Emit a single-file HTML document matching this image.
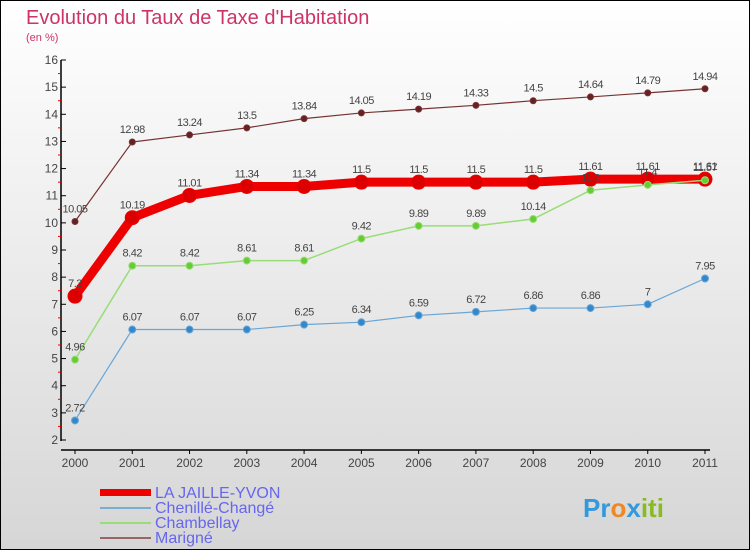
<!DOCTYPE html>
<html><head><meta charset="utf-8"><style>
body{margin:0}
#c{width:750px;height:550px;position:relative;box-sizing:border-box;border:1px solid #000;background:linear-gradient(#ffffff,#d6d6d6);font-family:"Liberation Sans","DejaVu Sans",sans-serif;overflow:hidden}
</style></head><body>
<div id="c">
<svg id="s" width="750" height="550" style="position:absolute;left:-1px;top:-1px;font-family:'Liberation Sans',sans-serif">
<text x="26" y="24" font-size="20" fill="#cc3366">Evolution du Taux de Taxe d'Habitation</text>
<text x="26" y="41" font-size="11" fill="#cc3366">(en %)</text>
<g id="plot"></g>
<g>
<rect x="100" y="489" width="51" height="7" fill="#ee0000"/>
<text x="155" y="498" font-size="16" fill="#6666ee">LA JAILLE-YVON</text>
<rect x="100" y="507" width="51" height="2" fill="#7aaed0"/>
<text x="155" y="513" font-size="16" fill="#6666ee">Chenillé-Changé</text>
<rect x="100" y="522" width="51" height="2" fill="#99dd77"/>
<text x="155" y="528" font-size="16" fill="#6666ee">Chambellay</text>
<rect x="100" y="537" width="51" height="2" fill="#996666"/>
<text x="155" y="543" font-size="16" fill="#6666ee">Marigné</text>
</g>
<text x="583" y="517" font-size="26" font-weight="bold" fill="#3399dd">Pr<tspan fill="#ee8822">o</tspan><tspan fill="#3399dd">x</tspan><tspan fill="#88bb22">iti</tspan></text>
</svg>
</div>
<script>
const years=[2000,2001,2002,2003,2004,2005,2006,2007,2008,2009,2010,2011];
const laJaille=[7.3,10.19,11.01,11.34,11.34,11.5,11.5,11.5,11.5,11.61,11.61,11.61];
const chenille=[2.72,6.07,6.07,6.07,6.25,6.34,6.59,6.72,6.86,6.86,7,7.95];
const chambellay=[4.96,8.42,8.42,8.61,8.61,9.42,9.89,9.89,10.14,11.2,11.4,11.57];
const marigne=[10.05,12.98,13.24,13.5,13.84,14.05,14.19,14.33,14.5,14.64,14.79,14.94];
const yTicks=[2,3,4,5,6,7,8,9,10,11,12,13,14,15,16];
const NS="http://www.w3.org/2000/svg";
const g=document.getElementById('plot');
const X=i=>75+i*(630/11);
const Y=v=>440-(v-2)*(380/14);
function mk(t,a,p){const e=document.createElementNS(NS,t);for(const k in a)e.setAttribute(k,a[k]);(p||g).appendChild(e);return e;}
let ax=mk('line',{x1:61,y1:60,x2:61,y2:441,stroke:'#000','stroke-width':1.5});


let xa=mk('line',{x1:61,y1:450,x2:710,y2:450,stroke:'#000','stroke-width':1.5});


yTicks.forEach(v=>{
 mk('line',{x1:61,y1:Y(v),x2:66,y2:Y(v),stroke:'#000'});
 if(v<16)mk('line',{x1:58,y1:Y(v+0.5),x2:61,y2:Y(v+0.5),stroke:'#e00'});
 const t=mk('text',{x:58,y:Y(v)+4,'font-size':12,fill:'#444','text-anchor':'end'});t.textContent=v;
 
 
});
years.forEach((yr,i)=>{
 mk('line',{x1:X(i),y1:450,x2:X(i),y2:454,stroke:'#000'});
 const t=mk('text',{x:X(i),y:467,'font-size':12,fill:'#444','text-anchor':'middle'});t.textContent=yr;
 
 
});
function series(vals,name,col,w,r,fill){
 const pts=vals.map((v,i)=>X(i)+','+Y(v)).join(' ');
 const l=mk('polyline',{points:pts,fill:'none',stroke:col,'stroke-width':w,'stroke-linejoin':'round'});
 
 
 vals.forEach((v,i)=>{
  const c=mk('circle',{cx:X(i),cy:Y(v),r:r,fill:fill,stroke:col,'stroke-width':1});
  
  
  const t=mk('text',{x:X(i),y:Y(v)-9,'font-size':11,fill:'#444','text-anchor':'middle','letter-spacing':'-0.5'});t.textContent=v;
  
  
 });
}
series(marigne,'marigne','#773333',1.2,3,'#662222');
series(chenille,'chenille-change','#6aa6d6',1.2,3.5,'#3388cc');
series(laJaille,'la-jaille-yvon','#ee0000',9,7,'#dd0000');
series(chambellay,'chambellay','#99dd77',1.5,3.5,'#66cc33');
</script>
</body></html>
